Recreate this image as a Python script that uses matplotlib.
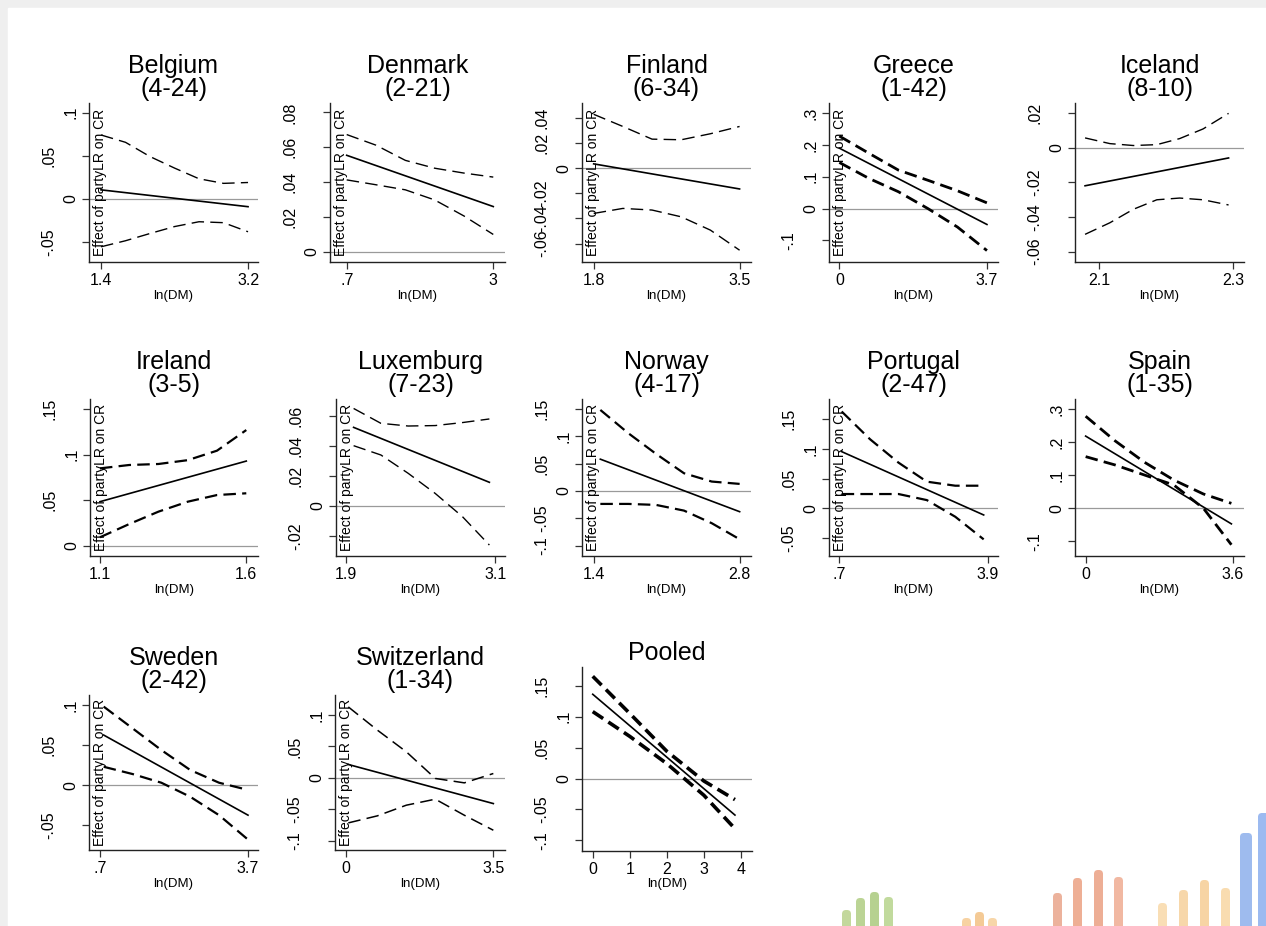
import numpy as np
import matplotlib.pyplot as plt
from matplotlib.patches import Rectangle, FancyBboxPatch

plt.rcParams['font.family'] = ['Liberation Sans', 'DejaVu Sans']
plt.rcParams['lines.scale_dashes'] = False

countries = ['Belgium', 'Denmark', 'Finland', 'Greece', 'Iceland',
             'Ireland', 'Luxemburg', 'Norway', 'Portugal', 'Spain',
             'Sweden', 'Switzerland', 'Pooled']
spans = ['(4-24)', '(2-21)', '(6-34)', '(1-42)', '(8-10)',
         '(3-5)', '(7-23)', '(4-17)', '(2-47)', '(1-35)',
         '(2-42)', '(1-34)', '']

# x positions (ln DM) where the confidence bands were read
ci_x = [
    [1.4, 1.7, 2.0, 2.3, 2.6, 2.9, 3.2],
    [0.7, 1.16, 1.62, 2.08, 2.54, 3.0],
    [1.8, 2.14, 2.48, 2.82, 3.16, 3.5],
    [0.0, 0.74, 1.48, 2.22, 2.96, 3.7],
    [2.079, 2.116, 2.151, 2.186, 2.220, 2.255, 2.293],
    [1.1, 1.2, 1.3, 1.4, 1.5, 1.6],
    [1.959, 2.179, 2.399, 2.617, 2.837, 3.054],
    [1.464, 1.732, 1.998, 2.266, 2.532, 2.8],
    [0.75, 1.363, 1.976, 2.588, 3.201, 3.814],
    [0.0, 0.715, 1.438, 2.153, 2.877, 3.56],
    [0.768, 1.357, 1.939, 2.528, 3.111, 3.7],
    [0.055, 0.744, 1.433, 2.122, 2.811, 3.5],
    [0.0, 1.0, 2.0, 3.0, 3.84],
]
ci_upper = [
    [0.074, 0.0655, 0.049, 0.0357, 0.0233, 0.018, 0.019],
    [0.0673, 0.0612, 0.0525, 0.048, 0.0452, 0.0429],
    [0.043, 0.0333, 0.0232, 0.0227, 0.0275, 0.0333],
    [0.228, 0.174, 0.121, 0.089, 0.056, 0.018],
    [0.0058, 0.0025, 0.0014, 0.0019, 0.0054, 0.011, 0.020],
    [0.085, 0.0887, 0.0898, 0.094, 0.1044, 0.127],
    [0.065, 0.0551, 0.0533, 0.0536, 0.0556, 0.058],
    [0.148, 0.1055, 0.0677, 0.0323, 0.0171, 0.0128],
    [0.163, 0.1163, 0.077, 0.045, 0.0382, 0.0382],
    [0.278, 0.204, 0.139, 0.0854, 0.0432, 0.015],
    [0.098, 0.0708, 0.0438, 0.0188, 0.003, -0.006],
    [0.113, 0.0761, 0.0415, -0.001, -0.008, 0.0069],
    [0.165, 0.105, 0.044, -0.004, -0.034],
]
ci_lower = [
    [-0.0554, -0.0484, -0.040, -0.032, -0.0264, -0.0275, -0.038],
    [0.0413, 0.0385, 0.0356, 0.0298, 0.0206, 0.010],
    [-0.036, -0.032, -0.0333, -0.0387, -0.0493, -0.0653],
    [0.145, 0.095, 0.053, 0.0, -0.058, -0.132],
    [-0.050, -0.0433, -0.0355, -0.030, -0.029, -0.030, -0.033],
    [0.0095, 0.024, 0.0376, 0.0485, 0.0558, 0.0577],
    [0.0402, 0.034, 0.0218, 0.0084, -0.0071, -0.026],
    [-0.0238, -0.0238, -0.0256, -0.036, -0.059, -0.0884],
    [0.0242, 0.0242, 0.0242, 0.014, -0.014, -0.052],
    [0.156, 0.131, 0.1005, 0.0704, 0.0, -0.11],
    [0.0229, 0.0138, 0.003, -0.0146, -0.0375, -0.068],
    [-0.0718, -0.0606, -0.0436, -0.034, -0.0596, -0.0835],
    [0.108, 0.068, 0.024, -0.027, -0.081],
]
# marginal effect line: value at first and last ci_x point
est_start = [0.0105, 0.0554, 0.0035, 0.19, -0.0219, 0.0485, 0.0524,
             0.058, 0.0955, 0.218, 0.0625, 0.0213, 0.136]
est_end = [-0.009, 0.026, -0.0165, -0.05, -0.0058, 0.093, 0.0158,
           -0.038, -0.011, -0.047, -0.0375, -0.041, -0.059]

x_ticks = [[1.4, 3.2], [0.7, 3], [1.8, 3.5], [0, 3.7], [2.1, 2.3],
           [1.1, 1.6], [1.9, 3.1], [1.4, 2.8], [0.7, 3.9], [0, 3.6],
           [0.7, 3.7], [0, 3.5], [0, 1, 2, 3, 4]]
y_ticks = [[-0.05, 0, 0.05, 0.1],
           [0, 0.02, 0.04, 0.06, 0.08],
           [-0.06, -0.04, -0.02, 0, 0.02, 0.04],
           [-0.1, 0, 0.1, 0.2, 0.3],
           [-0.06, -0.04, -0.02, 0, 0.02],
           [0, 0.05, 0.1, 0.15],
           [-0.02, 0, 0.02, 0.04, 0.06],
           [-0.1, -0.05, 0, 0.05, 0.1, 0.15],
           [-0.05, 0, 0.05, 0.1, 0.15],
           [-0.1, 0, 0.1, 0.2, 0.3],
           [-0.05, 0, 0.05, 0.1],
           [-0.1, -0.05, 0, 0.05, 0.1],
           [-0.1, -0.05, 0, 0.05, 0.1, 0.15]]
x_lims = [(1.253, 3.322), (0.438, 3.184), (1.664, 3.633), (-0.259, 3.977),
          (2.064, 2.316), (1.066, 1.64), (1.817, 3.18), (1.288, 2.909),
          (0.477, 4.123), (-0.26, 3.868), (0.47, 3.903), (-0.261, 3.777),
          (-0.29, 4.30)]
y_lims = [(-0.073, 0.111), (-0.0058, 0.0854), (-0.0747, 0.052), (-0.168, 0.332),
          (-0.066, 0.026), (-0.011, 0.161), (-0.0333, 0.0713), (-0.119, 0.168),
          (-0.080, 0.184), (-0.144, 0.33), (-0.081, 0.1125), (-0.115, 0.132),
          (-0.117, 0.180)]
has_ylabel = [True, True, True, True, False, True, True, True, True, False,
              True, True, False]

# layout in pixels (left, right, top, bottom)
W, H = 1266, 926
boxes = [(89, 258, 103, 262), (330, 505, 103, 262), (582, 751, 103, 262),
         (829, 998, 103, 262), (1075, 1244, 103, 262),
         (90, 258, 399, 556), (336, 505, 399, 556), (582, 751, 399, 556),
         (829, 998, 399, 556), (1075, 1244, 399, 556),
         (89, 258, 695, 850), (335, 505, 695, 850), (582, 752, 667, 851)]
band_lw = [1.0, 1.0, 1.0, 2.0, 1.0, 1.6, 1.0, 1.6, 1.6, 2.0, 1.6, 1.1, 2.6]


def stata_fmt(v):
    s = f'{v:g}'
    if s.startswith('0.'):
        s = s[1:]
    elif s.startswith('-0.'):
        s = '-' + s[2:]
    return s


fig = plt.figure(figsize=(W / 100, H / 100), dpi=100)

bg = fig.add_axes([0, 0, 1, 1], zorder=-5)
bg.set_xlim(0, W)
bg.set_ylim(H, 0)
bg.axis('off')
bg.add_patch(Rectangle((0, 0), W, H, color='#efefef'))
bg.add_patch(Rectangle((8, 8), W, H, color='white'))

# decorative logo bars, bottom right
logo = [(842, 910, '#9cbf5a'), (856, 898, '#8fb84e'), (870, 892, '#86b346'), (884, 897, '#98c25c'),
        (962, 918, '#f2b565'), (975, 912, '#eea850'), (988, 918, '#f3bb70'),
        (1053, 893, '#e0805a'), (1073, 878, '#e37a4f'), (1094, 870, '#e2784e'), (1114, 877, '#e88a64'),
        (1158, 903, '#f6c985'), (1179, 890, '#f3bd72'), (1200, 880, '#f2b867'), (1221, 888, '#f5c57c'),
        (1240, 833, '#5d8fe4'), (1258, 813, '#5a8ce6')]
for lx, ltop, lc in logo:
    bw = 12 if lx > 1235 else 9
    bg.add_patch(FancyBboxPatch((lx, ltop), bw, H - ltop + 10,
                                boxstyle='round,pad=0,rounding_size=4',
                                fc=lc, ec='none', alpha=0.6))

for i, name in enumerate(countries):
    l, r, t, b = boxes[i]
    ax = fig.add_axes([l / W, 1 - b / H, (r - l) / W, (b - t) / H])
    ax.axhline(0, color='#9a9a9a', lw=0.9, zorder=1)
    ax.plot([ci_x[i][0], ci_x[i][-1]], [est_start[i], est_end[i]],
            color='black', lw=1.2, zorder=3)
    for band in (ci_upper[i], ci_lower[i]):
        ax.plot(ci_x[i], band, color='black', lw=band_lw[i],
                dashes=(9, 4.5), zorder=2)
    ax.set_xlim(*x_lims[i])
    ax.set_ylim(*y_lims[i])
    ax.set_xticks(x_ticks[i])
    ax.set_xticklabels([stata_fmt(v) for v in x_ticks[i]])
    ax.set_yticks(y_ticks[i])
    ax.set_yticklabels([])
    # Stata-style vertical y labels: longer labels sit further out
    for v in y_ticks[i]:
        lab = stata_fmt(v)
        off = 13 if len(lab) <= 2 else 29
        ax.annotate(lab, xy=(0, v), xycoords=('axes fraction', 'data'),
                    xytext=(-off, 0), textcoords='offset points',
                    rotation=90, ha='center', va='center', fontsize=11.5)
    ax.tick_params(labelsize=11.5, length=5, width=0.9, color='#333333', pad=3)
    for side in ('top', 'right'):
        ax.spines[side].set_visible(False)
    for side in ('left', 'bottom'):
        ax.spines[side].set_linewidth(1.0)
        ax.spines[side].set_color('#222222')
    ax.set_xlabel('ln(DM)', fontsize=9.5, labelpad=1)
    title = name if not spans[i] else name + '\n' + spans[i]
    ax.set_title(title, fontsize=18, pad=5, linespacing=0.95)
    if has_ylabel[i]:
        ax.text(0.065, 0.5, 'Effect of partyLR on CR', transform=ax.transAxes,
                rotation=90, ha='center', va='center', fontsize=10, zorder=4)

fig.savefig('out.png', dpi=100)
